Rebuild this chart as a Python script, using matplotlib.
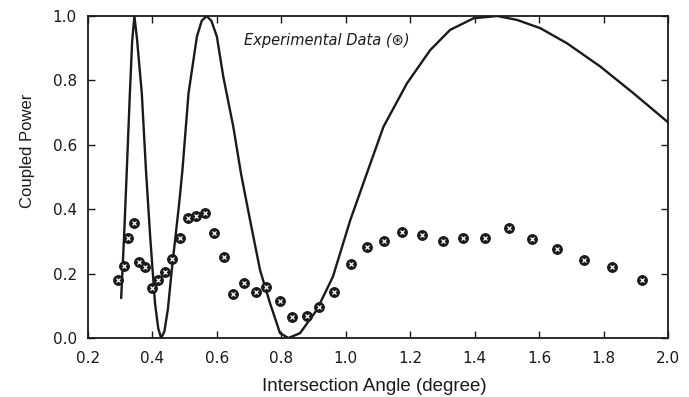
import numpy as np
import matplotlib.pyplot as plt

# theoretical curve
curve_x = [0.303, 0.312, 0.320, 0.330, 0.337, 0.344, 0.352, 0.367, 0.380, 0.393,
           0.408, 0.418, 0.427, 0.437, 0.448, 0.460, 0.483, 0.493, 0.512, 0.538,
           0.553, 0.568, 0.583, 0.600, 0.620, 0.651, 0.675, 0.703, 0.734, 0.765,
           0.796, 0.822, 0.858, 0.910, 0.960, 1.014, 1.065, 1.117, 1.190, 1.262,
           1.324, 1.397, 1.470, 1.531, 1.604, 1.687, 1.790, 1.893, 2.000]
curve_y = [0.125, 0.315, 0.510, 0.760, 0.920, 1.000, 0.930, 0.760, 0.520, 0.315,
           0.108, 0.030, 0.000, 0.020, 0.090, 0.211, 0.418, 0.520, 0.760, 0.936,
           0.985, 1.000, 0.985, 0.936, 0.811, 0.656, 0.510, 0.366, 0.211, 0.108,
           0.015, 0.000, 0.015, 0.087, 0.190, 0.366, 0.510, 0.656, 0.791, 0.894,
           0.957, 0.993, 1.000, 0.988, 0.962, 0.915, 0.843, 0.760, 0.670]

# experimental points
exp_x = [0.294, 0.312, 0.323, 0.344, 0.359, 0.377, 0.398, 0.418, 0.439, 0.462,
         0.486, 0.510, 0.535, 0.563, 0.592, 0.622, 0.651, 0.685, 0.720, 0.753,
         0.796, 0.834, 0.879, 0.918, 0.965, 1.017, 1.067, 1.120, 1.175, 1.237,
         1.302, 1.365, 1.433, 1.508, 1.579, 1.655, 1.740, 1.826, 1.920]
exp_y = [0.180, 0.224, 0.311, 0.358, 0.237, 0.219, 0.156, 0.180, 0.204, 0.244,
         0.311, 0.372, 0.379, 0.387, 0.325, 0.251, 0.136, 0.172, 0.144, 0.157,
         0.116, 0.064, 0.069, 0.097, 0.144, 0.230, 0.284, 0.302, 0.328, 0.319,
         0.302, 0.311, 0.311, 0.343, 0.307, 0.276, 0.242, 0.221, 0.180]

x_ticks = [0.2, 0.4, 0.6, 0.8, 1.0, 1.2, 1.4, 1.6, 1.8, 2.0]
x_ticklabels = ['0.2', '0.4', '0.6', '0.8', '1.0', '1.2', '1.4', '1.6', '1.8', '2.0']
y_ticks = [0.0, 0.2, 0.4, 0.6, 0.8, 1.0]
y_ticklabels = ['0.0', '0.2', '0.4', '0.6', '0.8', '1.0']

ink = '#1a1a1a'

fig = plt.figure(figsize=(6.89, 3.97), dpi=100)
ax = fig.add_axes([0.1277, 0.1486, 0.8418, 0.8111])

ax.plot(curve_x, curve_y, color=ink, lw=1.7, solid_joinstyle='round')
ax.plot(exp_x, exp_y, ls='none', marker='o', ms=7, mfc=ink, mec=ink, mew=0.8)
ax.plot(exp_x, exp_y, ls='none', marker='x', ms=3.5, mec='white', mew=0.9)

ax.set_xlim(0.2, 2.0)
ax.set_ylim(0.0, 1.0)
ax.set_xticks(x_ticks)
ax.set_xticklabels(x_ticklabels)
ax.set_yticks(y_ticks)
ax.set_yticklabels(y_ticklabels)
ax.tick_params(direction='in', top=True, right=True, length=5, width=1.0,
               color=ink, labelcolor=ink, labelsize=11)
ax.tick_params(axis='x', pad=9)
ax.tick_params(axis='y', pad=8)
for s in ax.spines.values():
    s.set_linewidth(1.3)
    s.set_color(ink)

ax.set_xlabel('Intersection Angle (degree)', fontsize=13.5, color=ink,
              family='Liberation Sans', va='center')
ax.xaxis.set_label_coords(0.493, -0.152)
ax.set_ylabel('Coupled Power', fontsize=12, color=ink,
              family='Liberation Sans', va='center')
ax.yaxis.set_label_coords(-0.105, 0.581)

ax.text(0.684, 0.925, 'Experimental Data (\u229b)', fontsize=10.5, style='italic',
        color=ink, va='center', ha='left')

fig.savefig('out.png', dpi=100)
